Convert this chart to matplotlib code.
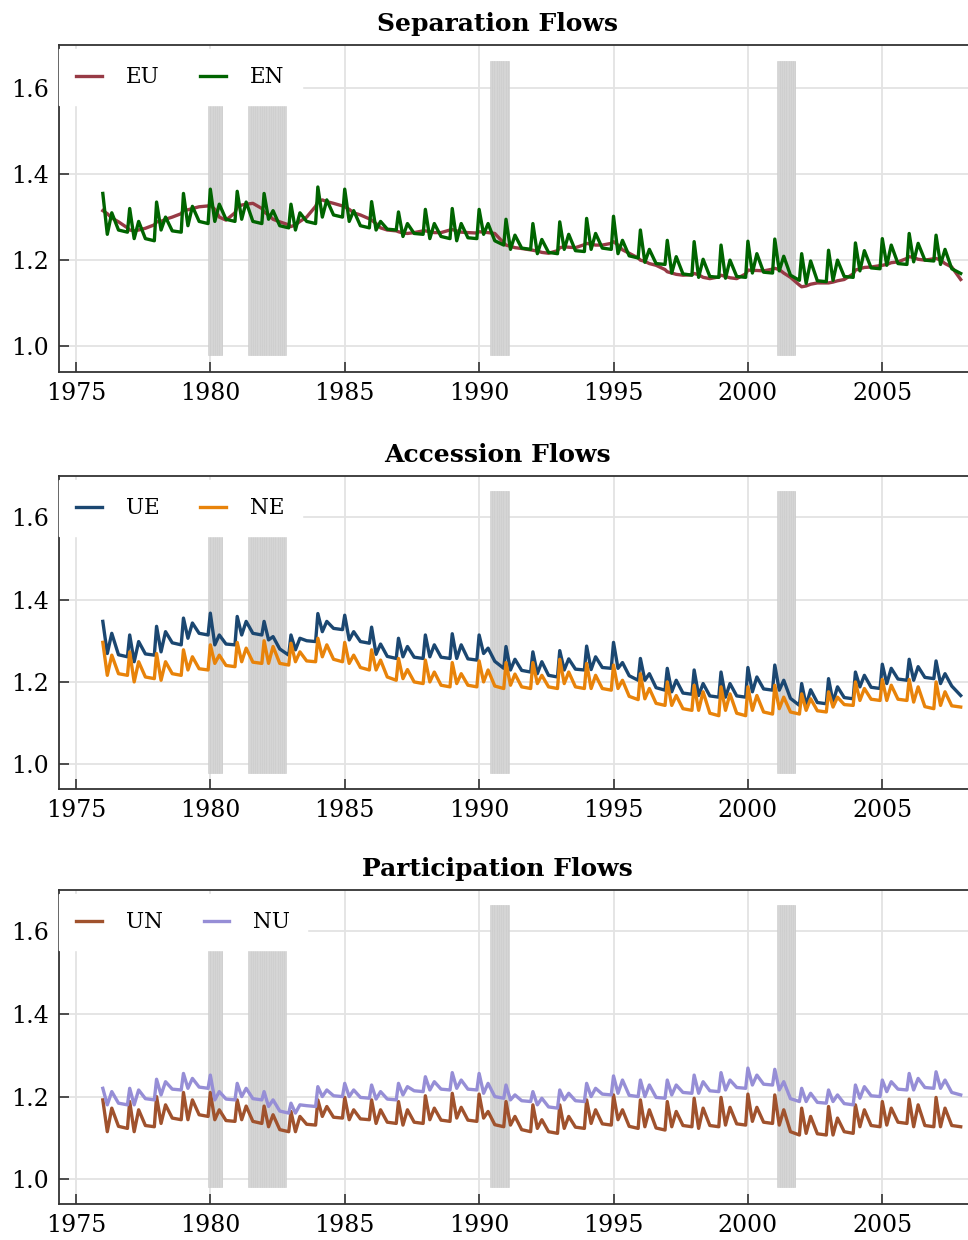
import numpy as np
import matplotlib.pyplot as plt

# readings per year: Jan peak, Mar trough, May bump, Jul low, Dec low
years = np.arange(1976, 2008)
months = [0, 2, 4, 7, 11]

eu = [1.315, 1.308, 1.298, 1.289, 1.275,  1.270, 1.268, 1.270, 1.274, 1.282,
      1.289, 1.290, 1.295, 1.300, 1.308,  1.316, 1.317, 1.320, 1.324, 1.326,
      1.328, 1.318, 1.300, 1.293, 1.310,  1.324, 1.328, 1.330, 1.332, 1.320,
      1.312, 1.305, 1.295, 1.289, 1.282,  1.278, 1.282, 1.290, 1.300, 1.325,
      1.336, 1.340, 1.336, 1.332, 1.326,  1.324, 1.318, 1.310, 1.305, 1.296,
      1.293, 1.285, 1.275, 1.270, 1.268,  1.266, 1.263, 1.262, 1.264, 1.268,
      1.268, 1.266, 1.264, 1.264, 1.270,  1.271, 1.268, 1.265, 1.264, 1.263,
      1.266, 1.265, 1.264, 1.262, 1.240,  1.235, 1.232, 1.229, 1.227, 1.224,
      1.223, 1.221, 1.218, 1.216, 1.222,  1.229, 1.231, 1.230, 1.229, 1.236,
      1.239, 1.237, 1.235, 1.235, 1.239,  1.243, 1.235, 1.224, 1.216, 1.205,
      1.200, 1.197, 1.192, 1.188, 1.178,  1.173, 1.170, 1.167, 1.165, 1.166,
      1.169, 1.166, 1.160, 1.157, 1.161,  1.165, 1.162, 1.159, 1.157, 1.168,
      1.177, 1.176, 1.176, 1.175, 1.179,  1.181, 1.178, 1.170, 1.160, 1.142,
      1.138, 1.140, 1.144, 1.147, 1.147,  1.147, 1.149, 1.152, 1.155, 1.168,
      1.177, 1.180, 1.183, 1.184, 1.187,  1.188, 1.190, 1.194, 1.196, 1.204,
      1.208, 1.206, 1.202, 1.200, 1.203,  1.204, 1.200, 1.192, 1.184, 1.155]
en = [1.355, 1.260, 1.310, 1.270, 1.265,  1.320, 1.250, 1.290, 1.250, 1.245,
      1.335, 1.270, 1.300, 1.268, 1.265,  1.355, 1.280, 1.325, 1.290, 1.285,
      1.365, 1.290, 1.330, 1.295, 1.290,  1.360, 1.295, 1.335, 1.290, 1.285,
      1.355, 1.295, 1.315, 1.280, 1.275,  1.330, 1.270, 1.310, 1.290, 1.285,
      1.370, 1.300, 1.340, 1.305, 1.300,  1.365, 1.290, 1.315, 1.280, 1.275,
      1.336, 1.270, 1.290, 1.272, 1.270,  1.312, 1.255, 1.285, 1.262, 1.260,
      1.318, 1.250, 1.285, 1.255, 1.250,  1.320, 1.245, 1.285, 1.252, 1.250,
      1.318, 1.260, 1.285, 1.245, 1.235,  1.295, 1.225, 1.258, 1.228, 1.225,
      1.285, 1.215, 1.248, 1.218, 1.215,  1.289, 1.225, 1.260, 1.222, 1.220,
      1.297, 1.225, 1.262, 1.228, 1.225,  1.302, 1.215, 1.246, 1.210, 1.205,
      1.270, 1.195, 1.225, 1.192, 1.190,  1.246, 1.170, 1.208, 1.168, 1.165,
      1.243, 1.160, 1.202, 1.162, 1.160,  1.235, 1.158, 1.200, 1.162, 1.160,
      1.244, 1.170, 1.215, 1.172, 1.170,  1.249, 1.175, 1.209, 1.165, 1.153,
      1.215, 1.146, 1.198, 1.152, 1.150,  1.223, 1.153, 1.200, 1.162, 1.160,
      1.240, 1.175, 1.222, 1.182, 1.180,  1.250, 1.188, 1.235, 1.192, 1.190,
      1.262, 1.196, 1.239, 1.200, 1.198,  1.258, 1.190, 1.225, 1.180, 1.169]
ue = [1.347, 1.269, 1.318, 1.266, 1.261,  1.314, 1.249, 1.298, 1.268, 1.265,
      1.335, 1.273, 1.322, 1.295, 1.290,  1.355, 1.306, 1.343, 1.318, 1.314,
      1.367, 1.290, 1.314, 1.292, 1.290,  1.359, 1.314, 1.347, 1.318, 1.314,
      1.347, 1.302, 1.310, 1.280, 1.265,  1.314, 1.278, 1.306, 1.300, 1.298,
      1.366, 1.322, 1.347, 1.330, 1.327,  1.362, 1.302, 1.322, 1.298, 1.294,
      1.333, 1.267, 1.292, 1.262, 1.257,  1.306, 1.261, 1.286, 1.260, 1.257,
      1.314, 1.261, 1.290, 1.260, 1.257,  1.317, 1.257, 1.290, 1.256, 1.253,
      1.314, 1.269, 1.282, 1.250, 1.233,  1.286, 1.229, 1.255, 1.228, 1.224,
      1.273, 1.220, 1.249, 1.216, 1.212,  1.276, 1.229, 1.256, 1.231, 1.229,
      1.287, 1.230, 1.261, 1.235, 1.233,  1.296, 1.233, 1.247, 1.215, 1.204,
      1.257, 1.204, 1.220, 1.186, 1.180,  1.233, 1.176, 1.204, 1.173, 1.170,
      1.229, 1.167, 1.196, 1.166, 1.163,  1.224, 1.163, 1.196, 1.166, 1.163,
      1.235, 1.176, 1.212, 1.183, 1.180,  1.241, 1.180, 1.204, 1.160, 1.143,
      1.196, 1.143, 1.181, 1.150, 1.147,  1.208, 1.151, 1.188, 1.162, 1.159,
      1.224, 1.188, 1.216, 1.187, 1.184,  1.243, 1.196, 1.233, 1.207, 1.204,
      1.255, 1.204, 1.237, 1.211, 1.208,  1.251, 1.196, 1.220, 1.190, 1.167]
ne = [1.296, 1.216, 1.265, 1.220, 1.216,  1.273, 1.200, 1.249, 1.212, 1.208,
      1.269, 1.204, 1.249, 1.220, 1.216,  1.278, 1.229, 1.261, 1.232, 1.229,
      1.290, 1.245, 1.265, 1.240, 1.237,  1.296, 1.249, 1.282, 1.248, 1.245,
      1.300, 1.245, 1.286, 1.245, 1.241,  1.294, 1.249, 1.273, 1.251, 1.249,
      1.306, 1.261, 1.290, 1.255, 1.249,  1.296, 1.245, 1.265, 1.235, 1.229,
      1.278, 1.229, 1.253, 1.212, 1.204,  1.257, 1.208, 1.230, 1.200, 1.196,
      1.253, 1.200, 1.224, 1.192, 1.188,  1.247, 1.196, 1.220, 1.192, 1.188,
      1.251, 1.200, 1.229, 1.190, 1.184,  1.247, 1.192, 1.219, 1.188, 1.184,
      1.247, 1.196, 1.216, 1.188, 1.184,  1.255, 1.196, 1.224, 1.188, 1.184,
      1.245, 1.184, 1.216, 1.184, 1.180,  1.241, 1.184, 1.204, 1.165, 1.157,
      1.220, 1.159, 1.184, 1.148, 1.143,  1.200, 1.143, 1.167, 1.135, 1.131,
      1.192, 1.131, 1.176, 1.124, 1.118,  1.188, 1.131, 1.171, 1.124, 1.118,
      1.188, 1.131, 1.167, 1.127, 1.122,  1.192, 1.135, 1.163, 1.127, 1.122,
      1.171, 1.131, 1.159, 1.130, 1.127,  1.176, 1.139, 1.163, 1.145, 1.143,
      1.200, 1.155, 1.184, 1.158, 1.155,  1.206, 1.155, 1.192, 1.158, 1.155,
      1.206, 1.151, 1.188, 1.140, 1.135,  1.200, 1.143, 1.176, 1.142, 1.139]
un = [1.192, 1.115, 1.172, 1.128, 1.123,  1.188, 1.115, 1.168, 1.130, 1.127,
      1.200, 1.135, 1.180, 1.148, 1.144,  1.210, 1.144, 1.192, 1.156, 1.152,
      1.210, 1.144, 1.168, 1.142, 1.140,  1.192, 1.144, 1.177, 1.140, 1.135,
      1.177, 1.127, 1.156, 1.120, 1.115,  1.164, 1.115, 1.152, 1.133, 1.131,
      1.192, 1.152, 1.176, 1.150, 1.148,  1.198, 1.144, 1.168, 1.146, 1.144,
      1.192, 1.135, 1.168, 1.138, 1.135,  1.188, 1.131, 1.168, 1.138, 1.135,
      1.202, 1.144, 1.172, 1.143, 1.140,  1.208, 1.148, 1.174, 1.143, 1.140,
      1.206, 1.148, 1.164, 1.132, 1.127,  1.188, 1.131, 1.152, 1.120, 1.115,
      1.180, 1.123, 1.144, 1.115, 1.111,  1.180, 1.123, 1.152, 1.126, 1.123,
      1.192, 1.135, 1.168, 1.134, 1.131,  1.204, 1.144, 1.168, 1.128, 1.123,
      1.192, 1.127, 1.168, 1.124, 1.119,  1.188, 1.127, 1.164, 1.130, 1.127,
      1.196, 1.123, 1.172, 1.130, 1.127,  1.198, 1.131, 1.174, 1.134, 1.131,
      1.206, 1.140, 1.174, 1.138, 1.135,  1.204, 1.131, 1.168, 1.115, 1.107,
      1.172, 1.111, 1.152, 1.110, 1.107,  1.176, 1.107, 1.148, 1.115, 1.111,
      1.180, 1.127, 1.168, 1.130, 1.127,  1.188, 1.131, 1.172, 1.138, 1.135,
      1.194, 1.127, 1.180, 1.130, 1.127,  1.198, 1.127, 1.172, 1.130, 1.127]
nu = [1.220, 1.180, 1.212, 1.184, 1.180,  1.220, 1.180, 1.216, 1.195, 1.192,
      1.242, 1.204, 1.236, 1.218, 1.216,  1.256, 1.220, 1.244, 1.223, 1.220,
      1.252, 1.192, 1.212, 1.194, 1.192,  1.232, 1.200, 1.220, 1.195, 1.192,
      1.212, 1.176, 1.192, 1.165, 1.160,  1.184, 1.160, 1.180, 1.178, 1.176,
      1.224, 1.200, 1.216, 1.202, 1.200,  1.232, 1.200, 1.216, 1.198, 1.196,
      1.228, 1.194, 1.212, 1.194, 1.192,  1.232, 1.204, 1.224, 1.214, 1.212,
      1.248, 1.216, 1.236, 1.218, 1.216,  1.258, 1.220, 1.240, 1.218, 1.216,
      1.256, 1.208, 1.232, 1.200, 1.196,  1.228, 1.192, 1.204, 1.190, 1.188,
      1.212, 1.180, 1.196, 1.175, 1.172,  1.216, 1.192, 1.208, 1.190, 1.188,
      1.232, 1.200, 1.220, 1.206, 1.204,  1.250, 1.208, 1.240, 1.203, 1.200,
      1.240, 1.200, 1.228, 1.198, 1.196,  1.240, 1.204, 1.228, 1.210, 1.208,
      1.252, 1.208, 1.236, 1.214, 1.212,  1.258, 1.216, 1.240, 1.222, 1.220,
      1.269, 1.228, 1.252, 1.230, 1.228,  1.266, 1.216, 1.236, 1.195, 1.188,
      1.220, 1.188, 1.208, 1.186, 1.184,  1.216, 1.188, 1.204, 1.183, 1.180,
      1.228, 1.196, 1.224, 1.202, 1.200,  1.240, 1.212, 1.236, 1.218, 1.216,
      1.256, 1.216, 1.244, 1.222, 1.220,  1.260, 1.220, 1.240, 1.210, 1.204]

rec_start = [1979.92, 1981.42, 1990.40, 2001.10]
rec_end = [1980.45, 1982.80, 1991.10, 2001.77]
rec_low, rec_high = 0.98, 1.663

titles = ["Separation Flows", "Accession Flows", "Participation Flows"]
pairs = [(("EU", eu, "#973a45"), ("EN", en, "#006400")),
         (("UE", ue, "#1b4771"), ("NE", ne, "#e8830a")),
         (("UN", un, "#a0522d"), ("NU", nu, "#968ed6"))]

t = (years[:, None] + np.array(months)[None, :] / 12.0).ravel()

fig = plt.figure(figsize=(9.68, 12.4), dpi=100)
tops = [45, 476, 890]
bottoms = [372, 789, 1204]
for k in range(3):
    y0 = 1 - bottoms[k] / 1240
    h = (bottoms[k] - tops[k]) / 1240
    ax = fig.add_axes([59 / 968, y0, 912 / 968, h])

    # recession shading, drawn month by month
    for s, e in zip(rec_start, rec_end):
        m = np.arange(s, e - 1e-6, 1 / 12.0)
        w = np.diff(np.append(m, e))
        ax.bar(m, rec_high - rec_low, bottom=rec_low, width=w, align='edge',
               color='#d5d5d5', edgecolor='#cbcbcb', linewidth=0.4, zorder=1)

    for name, vals, col in pairs[k]:
        ax.plot(t, vals, color=col, lw=2.4, label=name, zorder=3)

    ax.set_xlim(1974.37, 2008.3)
    ax.set_ylim(0.94, 1.70)
    ax.set_xticks([1975, 1980, 1985, 1990, 1995, 2000, 2005])
    ax.set_yticks([1.0, 1.2, 1.4, 1.6])
    ax.set_yticklabels(["1.0", "1.2", "1.4", "1.6"])
    ax.grid(True, color='#e3e3e3', lw=1.3)
    ax.set_axisbelow(True)
    ax.tick_params(direction='in', length=7, width=1.2, color='#333333',
                   labelsize=17, pad=7)
    for lab in ax.get_xticklabels() + ax.get_yticklabels():
        lab.set_family('DejaVu Serif')
    for sp in ax.spines.values():
        sp.set_color('#333333')
        sp.set_linewidth(1.3)

    ax.set_title(titles[k], fontsize=18, fontweight='bold',
                 family='DejaVu Serif', x=0.481, pad=10)

    leg = ax.legend(loc='upper left', ncol=2, frameon=True, fancybox=False,
                    bbox_to_anchor=(0, 1 - 4 / 327), borderaxespad=0,
                    borderpad=0.8, handlelength=1.2, handletextpad=1.1,
                    columnspacing=1.9,
                    prop={'family': 'DejaVu Serif', 'size': 15.5})
    leg.get_frame().set_facecolor('white')
    leg.get_frame().set_edgecolor('white')
    leg.get_frame().set_alpha(1.0)
    leg.set_zorder(5)

fig.savefig("out.png", dpi=100)
